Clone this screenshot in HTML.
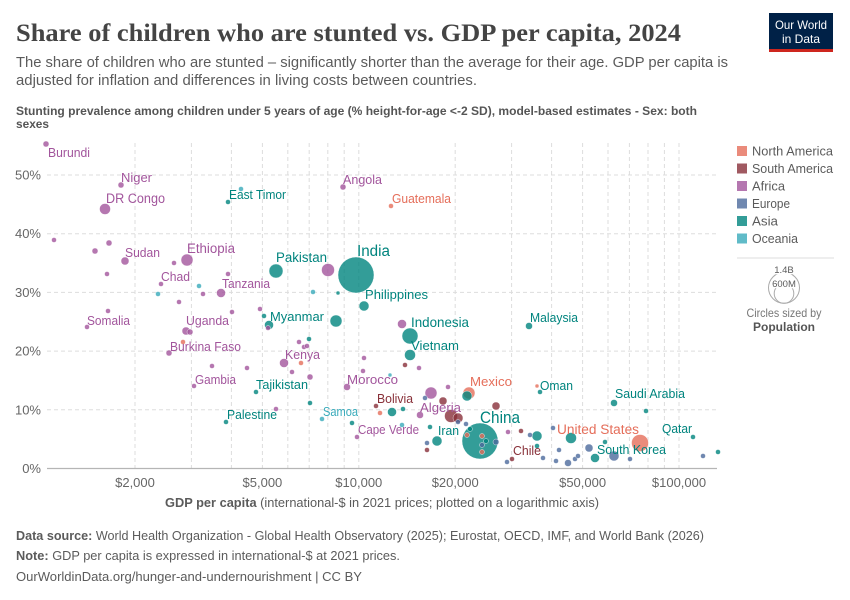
<!DOCTYPE html>
<html><head><meta charset="utf-8"><style>
html,body{margin:0;padding:0;background:#fff;}
svg{display:block;font-family:"Liberation Sans",sans-serif;}
</style></head><body>
<svg width="850" height="600" viewBox="0 0 850 600" xmlns="http://www.w3.org/2000/svg">
<rect width="850" height="600" fill="#fff"/>
<!-- Header -->
<text x="16" y="41" font-family="Liberation Serif, serif" font-weight="bold" font-size="25" fill="#444" textLength="665" lengthAdjust="spacingAndGlyphs">Share of children who are stunted vs. GDP per capita, 2024</text>
<text x="16" y="67" font-size="15" fill="#5b5b5b" textLength="712" lengthAdjust="spacingAndGlyphs">The share of children who are stunted – significantly shorter than the average for their age. GDP per capita is</text>
<text x="16" y="85" font-size="15" fill="#5b5b5b" textLength="461" lengthAdjust="spacingAndGlyphs">adjusted for inflation and differences in living costs between countries.</text>
<text x="16" y="115" font-size="12" font-weight="bold" fill="#555" textLength="681" lengthAdjust="spacingAndGlyphs">Stunting prevalence among children under 5 years of age (% height-for-age &lt;-2 SD), model-based estimates - Sex: both</text>
<text x="16" y="128" font-size="12" font-weight="bold" fill="#555" textLength="33" lengthAdjust="spacingAndGlyphs">sexes</text>
<!-- Logo -->
<rect x="769" y="13" width="64" height="39" fill="#002147"/>
<rect x="769" y="49" width="64" height="3" fill="#ce261e"/>
<text x="801" y="29" font-size="12" fill="#fff" text-anchor="middle" textLength="52" lengthAdjust="spacingAndGlyphs">Our World</text>
<text x="801" y="43" font-size="12" fill="#fff" text-anchor="middle" textLength="38" lengthAdjust="spacingAndGlyphs">in Data</text>
<!-- Grid -->
<g stroke="#ddd" stroke-width="1" stroke-dasharray="4,3" fill="none">
<line x1="47" y1="409.8" x2="717" y2="409.8"/>
<line x1="47" y1="351.1" x2="717" y2="351.1"/>
<line x1="47" y1="292.4" x2="717" y2="292.4"/>
<line x1="47" y1="233.7" x2="717" y2="233.7"/>
<line x1="47" y1="175" x2="717" y2="175"/>
<line x1="135" y1="143" x2="135" y2="468"/>
<line x1="191.4" y1="143" x2="191.4" y2="468"/>
<line x1="231.4" y1="143" x2="231.4" y2="468"/>
<line x1="262.4" y1="143" x2="262.4" y2="468"/>
<line x1="287.8" y1="143" x2="287.8" y2="468"/>
<line x1="309.2" y1="143" x2="309.2" y2="468"/>
<line x1="327.8" y1="143" x2="327.8" y2="468"/>
<line x1="344.2" y1="143" x2="344.2" y2="468"/>
<line x1="358.8" y1="143" x2="358.8" y2="468"/>
<line x1="455.2" y1="143" x2="455.2" y2="468"/>
<line x1="511.6" y1="143" x2="511.6" y2="468"/>
<line x1="551.6" y1="143" x2="551.6" y2="468"/>
<line x1="582.6" y1="143" x2="582.6" y2="468"/>
<line x1="608" y1="143" x2="608" y2="468"/>
<line x1="629.4" y1="143" x2="629.4" y2="468"/>
<line x1="648" y1="143" x2="648" y2="468"/>
<line x1="664.4" y1="143" x2="664.4" y2="468"/>
<line x1="679" y1="143" x2="679" y2="468"/>
</g>
<line x1="47" y1="468.5" x2="717" y2="468.5" stroke="#b5b5b5" stroke-width="1.2"/>
<!-- Y labels -->
<g font-size="13" fill="#666" text-anchor="end">
<text x="41" y="473">0%</text>
<text x="41" y="414.3">10%</text>
<text x="41" y="355.6">20%</text>
<text x="41" y="296.9">30%</text>
<text x="41" y="238.2">40%</text>
<text x="41" y="179.5">50%</text>
</g>
<!-- X labels -->
<g font-size="13" fill="#666" text-anchor="middle">
<text x="135" y="487">$2,000</text>
<text x="262.4" y="487">$5,000</text>
<text x="358.8" y="487">$10,000</text>
<text x="455.2" y="487">$20,000</text>
<text x="582.6" y="487">$50,000</text>
<text x="679" y="487">$100,000</text>
</g>
<text x="165" y="507" font-size="13" fill="#5b5b5b" textLength="434" lengthAdjust="spacingAndGlyphs"><tspan font-weight="bold">GDP per capita</tspan> (international-$ in 2021 prices; plotted on a logarithmic axis)</text>
<!-- Circles -->
<g stroke="#fff" stroke-width="0.4" fill-opacity="0.8">
<!-- big -->
<circle cx="356" cy="275" r="18" fill="#00847E"/>
<circle cx="480" cy="441" r="18" fill="#00847E"/>
<circle cx="640" cy="443" r="8.5" fill="#E56E5A"/>
<circle cx="410" cy="336" r="8" fill="#00847E"/>
<circle cx="276" cy="271" r="7" fill="#00847E"/>
<circle cx="328" cy="270" r="6.5" fill="#A2559C"/>
<circle cx="451" cy="416" r="6.5" fill="#883039"/>
<circle cx="187" cy="260" r="6" fill="#A2559C"/>
<circle cx="336" cy="321" r="6" fill="#00847E"/>
<circle cx="431" cy="393" r="6" fill="#A2559C"/>
<circle cx="469" cy="393" r="6" fill="#E56E5A"/>
<circle cx="105" cy="209" r="5.5" fill="#A2559C"/>
<circle cx="410" cy="355" r="5.5" fill="#00847E"/>
<circle cx="571" cy="438" r="5.5" fill="#00847E"/>
<circle cx="364" cy="306" r="5" fill="#00847E"/>
<circle cx="437" cy="441" r="5" fill="#00847E"/>
<circle cx="467" cy="396" r="5" fill="#00847E"/>
<circle cx="537" cy="436" r="5" fill="#00847E"/>
<circle cx="458" cy="418" r="5" fill="#883039"/>
<circle cx="614" cy="456" r="5" fill="#4C6A9C"/>
<circle cx="221" cy="293" r="4.5" fill="#A2559C"/>
<circle cx="284" cy="363" r="4.5" fill="#A2559C"/>
<circle cx="402" cy="324" r="4.5" fill="#A2559C"/>
<circle cx="269" cy="325" r="4.5" fill="#00847E"/>
<circle cx="392" cy="412" r="4.5" fill="#00847E"/>
<circle cx="595" cy="458" r="4.5" fill="#00847E"/>
<circle cx="125" cy="261" r="4" fill="#A2559C"/>
<circle cx="186" cy="331" r="4" fill="#A2559C"/>
<circle cx="443" cy="401" r="4" fill="#883039"/>
<circle cx="496" cy="406" r="4" fill="#883039"/>
<circle cx="589" cy="448" r="4" fill="#4C6A9C"/>
<circle cx="347" cy="387" r="3.5" fill="#A2559C"/>
<circle cx="420" cy="415" r="3.5" fill="#A2559C"/>
<circle cx="529" cy="326" r="3.5" fill="#00847E"/>
<circle cx="614" cy="403" r="3.5" fill="#00847E"/>
<circle cx="568" cy="463" r="3.5" fill="#4C6A9C"/>
<!-- small africa -->
<circle cx="46" cy="144" r="3" fill="#A2559C"/>
<circle cx="121" cy="185" r="3" fill="#A2559C"/>
<circle cx="95" cy="251" r="3" fill="#A2559C"/>
<circle cx="109" cy="243" r="3" fill="#A2559C"/>
<circle cx="190" cy="332" r="3" fill="#A2559C"/>
<circle cx="169" cy="353" r="3" fill="#A2559C"/>
<circle cx="310" cy="377" r="3" fill="#A2559C"/>
<circle cx="343" cy="187" r="3" fill="#A2559C"/>
<circle cx="54" cy="240" r="2.5" fill="#A2559C"/>
<circle cx="107" cy="274" r="2.5" fill="#A2559C"/>
<circle cx="174" cy="263" r="2.5" fill="#A2559C"/>
<circle cx="161" cy="284" r="2.5" fill="#A2559C"/>
<circle cx="228" cy="274" r="2.5" fill="#A2559C"/>
<circle cx="203" cy="294" r="2.5" fill="#A2559C"/>
<circle cx="179" cy="302" r="2.5" fill="#A2559C"/>
<circle cx="232" cy="312" r="2.5" fill="#A2559C"/>
<circle cx="87" cy="327" r="2.5" fill="#A2559C"/>
<circle cx="108" cy="311" r="2.5" fill="#A2559C"/>
<circle cx="212" cy="366" r="2.5" fill="#A2559C"/>
<circle cx="247" cy="368" r="2.5" fill="#A2559C"/>
<circle cx="194" cy="386" r="2.5" fill="#A2559C"/>
<circle cx="260" cy="309" r="2.5" fill="#A2559C"/>
<circle cx="268" cy="328" r="2.5" fill="#A2559C"/>
<circle cx="292" cy="372" r="2.5" fill="#A2559C"/>
<circle cx="299" cy="342" r="2.5" fill="#A2559C"/>
<circle cx="304" cy="347" r="2.5" fill="#A2559C"/>
<circle cx="307" cy="346" r="2.5" fill="#A2559C"/>
<circle cx="364" cy="358" r="2.5" fill="#A2559C"/>
<circle cx="363" cy="371" r="2.5" fill="#A2559C"/>
<circle cx="448" cy="387" r="2.5" fill="#A2559C"/>
<circle cx="357" cy="437" r="2.5" fill="#A2559C"/>
<circle cx="419" cy="368" r="2.5" fill="#A2559C"/>
<circle cx="508" cy="432" r="2.5" fill="#A2559C"/>
<circle cx="276" cy="409" r="2.5" fill="#A2559C"/>
<!-- small asia -->
<circle cx="264" cy="316" r="2.5" fill="#00847E"/>
<circle cx="228" cy="202" r="2.5" fill="#00847E"/>
<circle cx="338" cy="293" r="2" fill="#00847E"/>
<circle cx="309" cy="339" r="2.5" fill="#00847E"/>
<circle cx="256" cy="392" r="2.5" fill="#00847E"/>
<circle cx="226" cy="422" r="2.5" fill="#00847E"/>
<circle cx="540" cy="392" r="2.5" fill="#00847E"/>
<circle cx="646" cy="411" r="2.5" fill="#00847E"/>
<circle cx="693" cy="437" r="2.5" fill="#00847E"/>
<circle cx="718" cy="452" r="2.5" fill="#00847E"/>
<circle cx="605" cy="442" r="2.5" fill="#00847E"/>
<circle cx="537" cy="446" r="2.5" fill="#00847E"/>
<circle cx="403" cy="409" r="2.5" fill="#00847E"/>
<circle cx="352" cy="423" r="2.5" fill="#00847E"/>
<circle cx="430" cy="427" r="2.5" fill="#00847E"/>
<circle cx="310" cy="403" r="2.5" fill="#00847E"/>
<circle cx="486" cy="441" r="2.5" fill="#00847E"/>
<circle cx="470" cy="429" r="2.5" fill="#00847E"/>
<!-- oceania -->
<circle cx="241" cy="189" r="2.5" fill="#38AABA"/>
<circle cx="199" cy="286" r="2.5" fill="#38AABA"/>
<circle cx="158" cy="294" r="2.5" fill="#38AABA"/>
<circle cx="313" cy="292" r="2.5" fill="#38AABA"/>
<circle cx="322" cy="419" r="2.5" fill="#38AABA"/>
<circle cx="390" cy="375" r="2" fill="#38AABA"/>
<circle cx="402" cy="425" r="2.5" fill="#38AABA"/>
<!-- south america -->
<circle cx="376" cy="406" r="2.5" fill="#883039"/>
<circle cx="521" cy="431" r="2.5" fill="#883039"/>
<circle cx="512" cy="459" r="2.5" fill="#883039"/>
<circle cx="427" cy="450" r="2.5" fill="#883039"/>
<circle cx="405" cy="365" r="2.5" fill="#883039"/>
<!-- europe -->
<circle cx="458" cy="422" r="2.5" fill="#4C6A9C"/>
<circle cx="466" cy="424" r="2.5" fill="#4C6A9C"/>
<circle cx="425" cy="398" r="2.5" fill="#4C6A9C"/>
<circle cx="427" cy="443" r="2.5" fill="#4C6A9C"/>
<circle cx="496" cy="442" r="3" fill="#4C6A9C"/>
<circle cx="482" cy="445" r="2.5" fill="#4C6A9C"/>
<circle cx="530" cy="435" r="2.5" fill="#4C6A9C"/>
<circle cx="553" cy="428" r="2.5" fill="#4C6A9C"/>
<circle cx="543" cy="458" r="2.5" fill="#4C6A9C"/>
<circle cx="556" cy="461" r="2.5" fill="#4C6A9C"/>
<circle cx="559" cy="450" r="2.5" fill="#4C6A9C"/>
<circle cx="575" cy="459" r="2.5" fill="#4C6A9C"/>
<circle cx="578" cy="456" r="2.5" fill="#4C6A9C"/>
<circle cx="630" cy="459" r="2.5" fill="#4C6A9C"/>
<circle cx="703" cy="456" r="2.5" fill="#4C6A9C"/>
<circle cx="507" cy="462" r="2.5" fill="#4C6A9C"/>
<!-- north america small -->
<circle cx="391" cy="206" r="2.5" fill="#E56E5A"/>
<circle cx="183" cy="342" r="2.5" fill="#E56E5A"/>
<circle cx="301" cy="363" r="2.5" fill="#E56E5A"/>
<circle cx="380" cy="413" r="2.5" fill="#E56E5A"/>
<circle cx="537" cy="386" r="2" fill="#E56E5A"/>
<circle cx="482" cy="436" r="2.5" fill="#E56E5A"/>
<circle cx="467" cy="435" r="2.5" fill="#E56E5A"/>
<circle cx="482" cy="452" r="2.5" fill="#E56E5A"/>
</g>
<!-- Labels -->
<g font-size="12.5" fill="#A2559C" lengthAdjust="spacingAndGlyphs">
<text x="48" y="157" textLength="42" lengthAdjust="spacingAndGlyphs">Burundi</text>
<text x="121" y="182" textLength="31" lengthAdjust="spacingAndGlyphs">Niger</text>
<text x="106" y="203" font-size="13.5" textLength="59" lengthAdjust="spacingAndGlyphs">DR Congo</text>
<text x="125" y="257" textLength="35" lengthAdjust="spacingAndGlyphs">Sudan</text>
<text x="187" y="253" font-size="13.5" textLength="48" lengthAdjust="spacingAndGlyphs">Ethiopia</text>
<text x="161" y="281" textLength="29" lengthAdjust="spacingAndGlyphs">Chad</text>
<text x="222" y="288" textLength="48" lengthAdjust="spacingAndGlyphs">Tanzania</text>
<text x="87" y="325" textLength="43" lengthAdjust="spacingAndGlyphs">Somalia</text>
<text x="186" y="325" textLength="43" lengthAdjust="spacingAndGlyphs">Uganda</text>
<text x="170" y="351" textLength="71" lengthAdjust="spacingAndGlyphs">Burkina Faso</text>
<text x="195" y="384" textLength="41" lengthAdjust="spacingAndGlyphs">Gambia</text>
<text x="285" y="359" textLength="35" lengthAdjust="spacingAndGlyphs">Kenya</text>
<text x="347" y="384" textLength="51" lengthAdjust="spacingAndGlyphs">Morocco</text>
<text x="343" y="184" textLength="39" lengthAdjust="spacingAndGlyphs">Angola</text>
<text x="420" y="412" textLength="41" lengthAdjust="spacingAndGlyphs">Algeria</text>
<text x="358" y="434" textLength="61" lengthAdjust="spacingAndGlyphs">Cape Verde</text>
</g>
<g font-size="12.5" fill="#00847E">
<text x="229" y="199" textLength="57" lengthAdjust="spacingAndGlyphs">East Timor</text>
<text x="276" y="262" font-size="13.5" textLength="51" lengthAdjust="spacingAndGlyphs">Pakistan</text>
<text x="357" y="256" font-size="15.5" textLength="33" lengthAdjust="spacingAndGlyphs">India</text>
<text x="365" y="299" font-size="13" textLength="63" lengthAdjust="spacingAndGlyphs">Philippines</text>
<text x="270" y="321" textLength="54" lengthAdjust="spacingAndGlyphs">Myanmar</text>
<text x="411" y="327" font-size="14" textLength="58" lengthAdjust="spacingAndGlyphs">Indonesia</text>
<text x="411" y="350" font-size="13" textLength="48" lengthAdjust="spacingAndGlyphs">Vietnam</text>
<text x="530" y="322" textLength="48" lengthAdjust="spacingAndGlyphs">Malaysia</text>
<text x="256" y="389" textLength="52" lengthAdjust="spacingAndGlyphs">Tajikistan</text>
<text x="227" y="419" textLength="50" lengthAdjust="spacingAndGlyphs">Palestine</text>
<text x="438" y="435" textLength="21" lengthAdjust="spacingAndGlyphs">Iran</text>
<text x="480" y="423" font-size="16.5" textLength="40" lengthAdjust="spacingAndGlyphs">China</text>
<text x="540" y="390" textLength="33" lengthAdjust="spacingAndGlyphs">Oman</text>
<text x="615" y="398" textLength="70" lengthAdjust="spacingAndGlyphs">Saudi Arabia</text>
<text x="662" y="433" textLength="30" lengthAdjust="spacingAndGlyphs">Qatar</text>
<text x="597" y="454" font-size="13" textLength="69" lengthAdjust="spacingAndGlyphs">South Korea</text>
</g>
<g font-size="12.5" fill="#E56E5A">
<text x="392" y="203" textLength="59" lengthAdjust="spacingAndGlyphs">Guatemala</text>
<text x="470" y="386" font-size="13" textLength="42" lengthAdjust="spacingAndGlyphs">Mexico</text>
<text x="557" y="434" font-size="13.5" textLength="82" lengthAdjust="spacingAndGlyphs">United States</text>
</g>
<g font-size="12.5" fill="#883039">
<text x="377" y="403" textLength="36" lengthAdjust="spacingAndGlyphs">Bolivia</text>
<text x="513" y="455" textLength="28" lengthAdjust="spacingAndGlyphs">Chile</text>
</g>
<text x="323" y="416" font-size="12.5" fill="#38AABA" textLength="35" lengthAdjust="spacingAndGlyphs">Samoa</text>
<!-- Legend -->
<g font-size="13" fill="#5b5b5b">
<rect x="737" y="146" width="10" height="10" fill="#E56E5A" fill-opacity="0.8"/>
<text x="752" y="155.5" textLength="81" lengthAdjust="spacingAndGlyphs">North America</text>
<rect x="737" y="163.5" width="10" height="10" fill="#883039" fill-opacity="0.8"/>
<text x="752" y="173" textLength="81" lengthAdjust="spacingAndGlyphs">South America</text>
<rect x="737" y="181" width="10" height="10" fill="#A2559C" fill-opacity="0.8"/>
<text x="752" y="190.5" textLength="33" lengthAdjust="spacingAndGlyphs">Africa</text>
<rect x="737" y="198.5" width="10" height="10" fill="#4C6A9C" fill-opacity="0.8"/>
<text x="752" y="208" textLength="38" lengthAdjust="spacingAndGlyphs">Europe</text>
<rect x="737" y="216" width="10" height="10" fill="#00847E" fill-opacity="0.8"/>
<text x="752" y="225.5" textLength="26" lengthAdjust="spacingAndGlyphs">Asia</text>
<rect x="737" y="233.5" width="10" height="10" fill="#38AABA" fill-opacity="0.8"/>
<text x="752" y="243" textLength="46" lengthAdjust="spacingAndGlyphs">Oceania</text>
</g>
<line x1="737" y1="258" x2="834" y2="258" stroke="#ddd" stroke-width="1"/>
<circle cx="784" cy="287.8" r="15.5" fill="none" stroke="#aaa" stroke-width="1"/>
<circle cx="784" cy="293.5" r="9.8" fill="none" stroke="#aaa" stroke-width="1"/>
<g font-size="9.5" fill="#5b5b5b" text-anchor="middle" stroke="#fff" stroke-width="2.5" paint-order="stroke">
<text x="784" y="273">1.4B</text>
<text x="784" y="287">600M</text>
</g>
<text x="784" y="317" font-size="12" fill="#777" text-anchor="middle" textLength="75" lengthAdjust="spacingAndGlyphs">Circles sized by</text>
<text x="784" y="331" font-size="12" font-weight="bold" fill="#555" text-anchor="middle" textLength="62" lengthAdjust="spacingAndGlyphs">Population</text>
<!-- Footer -->
<text x="16" y="540" font-size="13" fill="#5b5b5b" textLength="688" lengthAdjust="spacingAndGlyphs"><tspan font-weight="bold">Data source:</tspan> World Health Organization - Global Health Observatory (2025); Eurostat, OECD, IMF, and World Bank (2026)</text>
<text x="16" y="560" font-size="13" fill="#5b5b5b" textLength="384" lengthAdjust="spacingAndGlyphs"><tspan font-weight="bold">Note:</tspan> GDP per capita is expressed in international-$ at 2021 prices.</text>
<text x="16" y="581" font-size="13" fill="#5b5b5b" textLength="346" lengthAdjust="spacingAndGlyphs">OurWorldinData.org/hunger-and-undernourishment | CC BY</text>
</svg>
</body></html>
